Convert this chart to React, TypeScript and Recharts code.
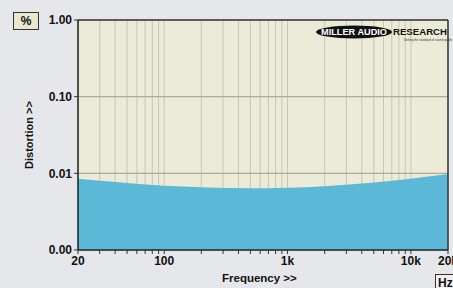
import React from 'react';
import { AreaChart, Area, XAxis, YAxis, CartesianGrid, ReferenceLine } from 'recharts';

const freqs = [20, 30, 50, 100, 200, 500, 1000, 2000, 5000, 10000, 15000, 20000];
const thd = [0.0085, 0.008, 0.0075, 0.0069, 0.0066, 0.0064, 0.0065, 0.0068, 0.0076, 0.0085, 0.0092, 0.0098];
const xTicks = [20, 30, 40, 50, 60, 70, 80, 90, 100, 200, 300, 400, 500, 600, 700, 800, 900, 1000, 2000, 3000, 4000, 5000, 6000, 7000, 8000, 9000, 10000, 20000];
const xLabels: Record<number, string> = { 20: '20', 100: '100', 1000: '1k', 10000: '10k', 20000: '20k' };
const yTicks = [0.001, 0.01, 0.1, 1];
const yLabels: Record<number, string> = { 0.001: '0.00', 0.01: '0.01', 0.1: '0.10', 1: '1.00' };

const data = freqs.map((f, i) => ({ f, v: thd[i] }));

const font = '"Liberation Sans", Arial, sans-serif';

export default function App() {
  return (
    <div style={{ position: 'absolute', left: 0, top: 0, width: 453, height: 288, background: '#e5e7ea', fontFamily: font, overflow: 'hidden' }}>
      <AreaChart width={453} height={288} data={data} margin={{ top: 20, right: 5, bottom: 8, left: 0 }}>
        <CartesianGrid fill="#ecebd8" stroke="#c9c5b0" horizontal={true} vertical={true} />
        <XAxis
          dataKey="f"
          type="number"
          scale="log"
          domain={[20, 20000]}
          ticks={xTicks}
          interval={0}
          height={30}
          tickFormatter={(v: number) => xLabels[v] ?? ''}
          tick={{ fill: '#111', fontSize: 12, fontWeight: 'bold', fontFamily: font }}
          tickSize={4}
          tickLine={{ stroke: '#333' }}
          axisLine={{ stroke: '#222', strokeWidth: 1.5 }}
          allowDataOverflow
        />
        <YAxis
          type="number"
          scale="log"
          domain={[0.001, 1]}
          ticks={yTicks}
          interval={0}
          width={78}
          tickFormatter={(v: number) => yLabels[v] ?? ''}
          tick={{ fill: '#111', fontSize: 12, fontWeight: 'bold', fontFamily: font }}
          tickSize={4}
          tickLine={{ stroke: '#333' }}
          axisLine={{ stroke: '#222', strokeWidth: 1.5 }}
          allowDataOverflow
        />
        <Area
          dataKey="v"
          type="monotone"
          baseValue={0.001}
          stroke="none"
          fill="#5cb8d7"
          fillOpacity={1}
          isAnimationActive={false}
        />
        <ReferenceLine y={0.1} stroke="#a9a394" />
        <ReferenceLine y={0.01} stroke="#a9a394" />
        <ReferenceLine y={1} stroke="#333" strokeWidth={1.5} />
        <ReferenceLine x={20000} stroke="#333" strokeWidth={1.5} />
      </AreaChart>
      <div style={{ position: 'absolute', left: 13, top: 12, width: 24, height: 16, border: '1px solid #333', background: '#e9e8cf', fontSize: 12, fontWeight: 'bold', textAlign: 'center', lineHeight: '16px', color: '#111' }}>%</div>
      <div style={{ position: 'absolute', left: 435, top: 274, width: 24, height: 16, border: '1px solid #333', background: '#f0f0f0', fontSize: 12, fontWeight: 'bold', lineHeight: '16px', paddingLeft: 2, color: '#111' }}>Hz</div>
      <div style={{ position: 'absolute', left: 222, top: 272, fontSize: 11.5, fontWeight: 'bold', color: '#111' }}>Frequency &gt;&gt;</div>
      <div style={{ position: 'absolute', left: 29, top: 135, transform: 'translate(-50%, -50%) rotate(-90deg)', fontSize: 11, fontWeight: 'bold', color: '#111', whiteSpace: 'nowrap' }}>Distortion &gt;&gt;</div>
      <svg style={{ position: 'absolute', left: 312, top: 24 }} width={140} height={22}>
        <ellipse cx={42} cy={8} rx={38} ry={6.5} fill="#111" />
        <text x={42} y={11} textAnchor="middle" fill="#fff" fontSize={8.5} fontWeight="bold" fontFamily={font} textLength={66} lengthAdjust="spacingAndGlyphs">MILLER AUDIO</text>
        <text x={81} y={11} fill="#111" fontSize={8.5} fontWeight="bold" fontFamily={font} textLength={54} lengthAdjust="spacingAndGlyphs">RESEARCH</text>
        <text x={92} y={17} fill="#333" fontSize={3} fontFamily={font}>Setting the standard of sound quality</text>
      </svg>
    </div>
  );
}
